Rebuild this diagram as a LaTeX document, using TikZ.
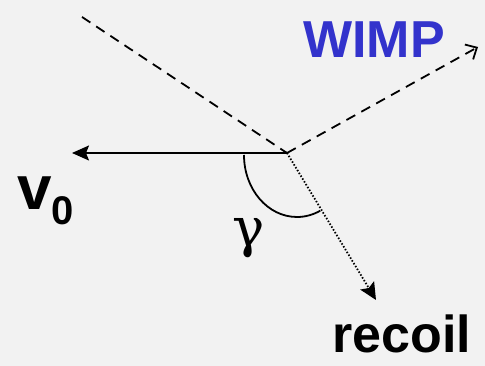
\documentclass[tikz,border=0pt]{standalone}
\usepackage{fontspec}
\setmainfont{Liberation Sans}
\newfontfamily\greekfont{DejaVu Serif}
\usepackage{xcolor}
\usetikzlibrary{arrows.meta, calc}
\definecolor{wimpblue}{HTML}{3333CC}
\definecolor{bgray}{HTML}{F2F2F2}

\begin{document}
\begin{tikzpicture}[
        x=1pt, y=1pt,
        track/.style={line width=1.8pt, dash pattern=on 10pt off 7pt},
        recoiltrack/.style={line width=1.8pt, dash pattern=on 1.5pt off 1.8pt},
        vel/.style={line width=1.8pt},
        label/.style={inner sep=0pt, anchor=base west, font=\bfseries\fontsize{52}{52}\selectfont}
      ]
        \fill[bgray] (0,0) rectangle (485,366);
        \useasboundingbox (0,0) rectangle (485,366);

        \coordinate (src) at (82,349);
        \coordinate (hit) at (287,213);
        \coordinate (wimpend) at (478,319);
        \coordinate (vend) at (72,213);
        \coordinate (recend) at (376,66);

        \draw[track] (src) -- (hit);
        \draw[track, -{Straight Barb[length=9pt, width=17pt, line width=1.8pt]}] (hit) -- (wimpend);
        \draw[vel, -{Stealth[length=17pt, width=15pt, inset=3pt]}] (hit) -- (vend);
        \draw[recoiltrack, -{Stealth[length=17pt, width=16pt, inset=3pt]}] (hit) -- (recend);
        \draw[line width=1.8pt] ($(hit)+(-43,-2)$) arc[start angle=180, end angle=296, x radius=53, y radius=62];

        \node[label, text=wimpblue] (wimp) at (303,308) {WIMP};
        \node[label] (recoil) at (332,13) {recoil};
        \node[inner sep=0pt, anchor=base west, font=\bfseries] (v0) at (17,156)
          {\fontsize{62}{62}\selectfont v\raisebox{-15pt}{\fontsize{40}{40}\selectfont 0}};
        \node[inner sep=0pt, font=\greekfont\fontsize{54}{54}\selectfont] (gamma) at (249,128) {γ};
\end{tikzpicture}
\end{document}
